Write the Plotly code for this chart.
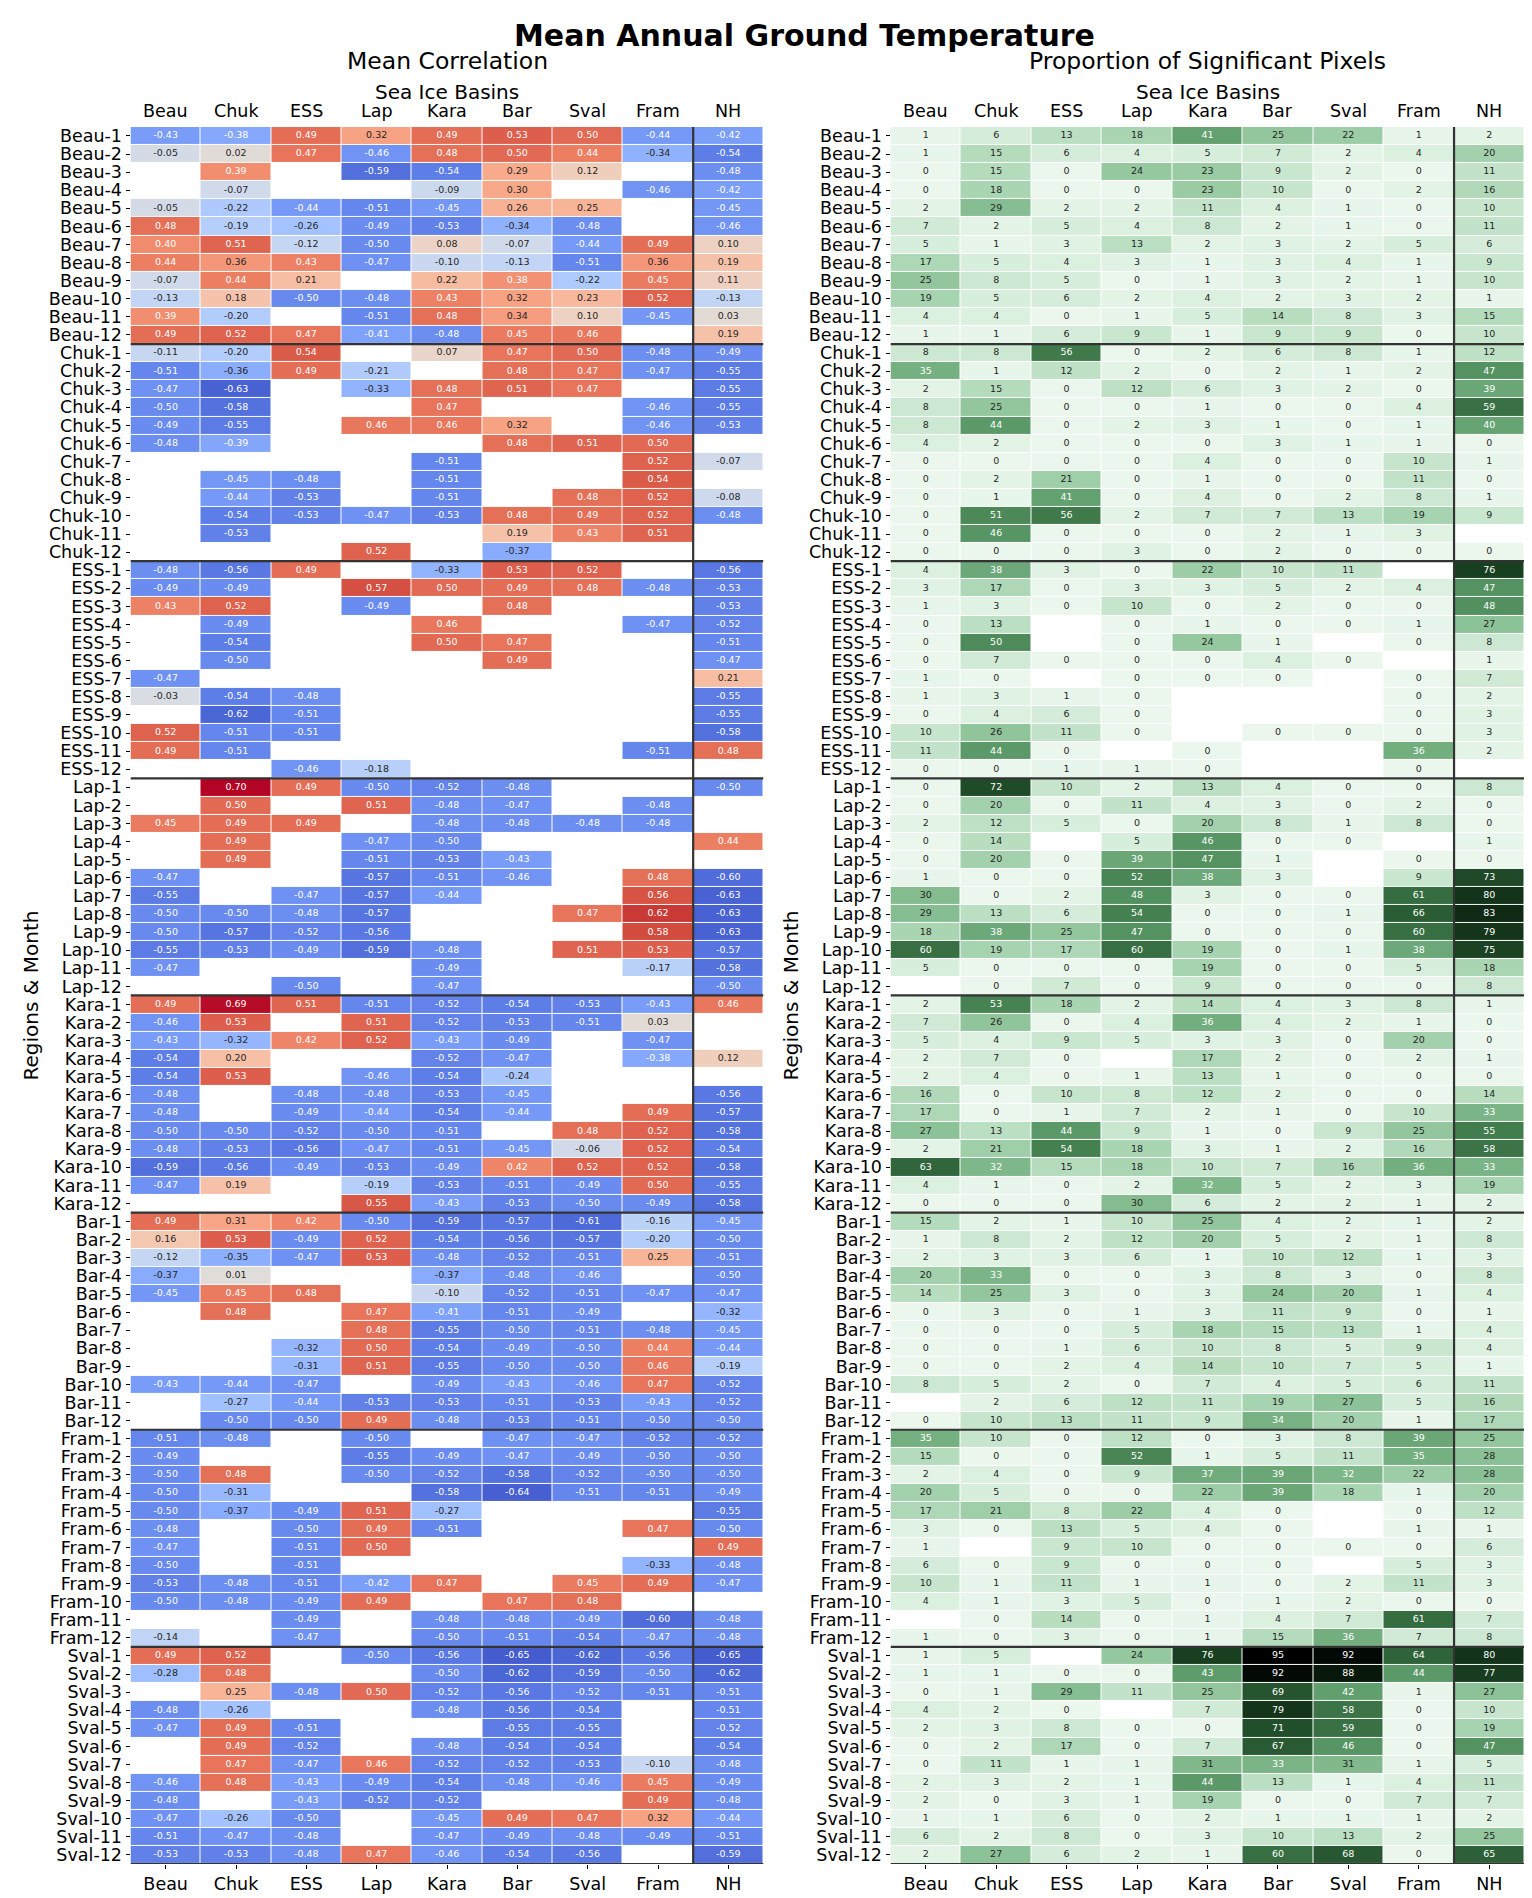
import numpy as np
import plotly.graph_objects as go

N = None
row_regions = ["Beau", "Chuk", "ESS", "Lap", "Kara", "Bar", "Fram", "Sval"]
basins = ["Beau", "Chuk", "ESS", "Lap", "Kara", "Bar", "Sval", "Fram", "NH"]
months = list(range(1, 13))

# ---------------- Mean correlation (rows = region-month, cols = basins) ----------------
corr_beau = [
    [-0.43, -0.38, 0.49, 0.32, 0.49, 0.53, 0.50, -0.44, -0.42],
    [-0.05, 0.02, 0.47, -0.46, 0.48, 0.50, 0.44, -0.34, -0.54],
    [N, 0.39, N, -0.59, -0.54, 0.29, 0.12, N, -0.48],
    [N, -0.07, N, N, -0.09, 0.30, N, -0.46, -0.42],
    [-0.05, -0.22, -0.44, -0.51, -0.45, 0.26, 0.25, N, -0.45],
    [0.48, -0.19, -0.26, -0.49, -0.53, -0.34, -0.48, N, -0.46],
    [0.40, 0.51, -0.12, -0.50, 0.08, -0.07, -0.44, 0.49, 0.10],
    [0.44, 0.36, 0.43, -0.47, -0.10, -0.13, -0.51, 0.36, 0.19],
    [-0.07, 0.44, 0.21, N, 0.22, 0.38, -0.22, 0.45, 0.11],
    [-0.13, 0.18, -0.50, -0.48, 0.43, 0.32, 0.23, 0.52, -0.13],
    [0.39, -0.20, N, -0.51, 0.48, 0.34, 0.10, -0.45, 0.03],
    [0.49, 0.52, 0.47, -0.41, -0.48, 0.45, 0.46, N, 0.19],
]
corr_chuk = [
    [-0.11, -0.20, 0.54, N, 0.07, 0.47, 0.50, -0.48, -0.49],
    [-0.51, -0.36, 0.49, -0.21, N, 0.48, 0.47, -0.47, -0.55],
    [-0.47, -0.63, N, -0.33, 0.48, 0.51, 0.47, N, -0.55],
    [-0.50, -0.58, N, N, 0.47, N, N, -0.46, -0.55],
    [-0.49, -0.55, N, 0.46, 0.46, 0.32, N, -0.46, -0.53],
    [-0.48, -0.39, N, N, N, 0.48, 0.51, 0.50, N],
    [N, N, N, N, -0.51, N, N, 0.52, -0.07],
    [N, -0.45, -0.48, N, -0.51, N, N, 0.54, N],
    [N, -0.44, -0.53, N, -0.51, N, 0.48, 0.52, -0.08],
    [N, -0.54, -0.53, -0.47, -0.53, 0.48, 0.49, 0.52, -0.48],
    [N, -0.53, N, N, N, 0.19, 0.43, 0.51, N],
    [N, N, N, 0.52, N, -0.37, N, N, N],
]
corr_ess = [
    [-0.48, -0.56, 0.49, N, -0.33, 0.53, 0.52, N, -0.56],
    [-0.49, -0.49, N, 0.57, 0.50, 0.49, 0.48, -0.48, -0.53],
    [0.43, 0.52, N, -0.49, N, 0.48, N, N, -0.53],
    [N, -0.49, N, N, 0.46, N, N, -0.47, -0.52],
    [N, -0.54, N, N, 0.50, 0.47, N, N, -0.51],
    [N, -0.50, N, N, N, 0.49, N, N, -0.47],
    [-0.47, N, N, N, N, N, N, N, 0.21],
    [-0.03, -0.54, -0.48, N, N, N, N, N, -0.55],
    [N, -0.62, -0.51, N, N, N, N, N, -0.55],
    [0.52, -0.51, -0.51, N, N, N, N, N, -0.58],
    [0.49, -0.51, N, N, N, N, N, -0.51, 0.48],
    [N, N, -0.46, -0.18, N, N, N, N, N],
]
corr_lap = [
    [N, 0.70, 0.49, -0.50, -0.52, -0.48, N, N, -0.50],
    [N, 0.50, N, 0.51, -0.48, -0.47, N, -0.48, N],
    [0.45, 0.49, 0.49, N, -0.48, -0.48, -0.48, -0.48, N],
    [N, 0.49, N, -0.47, -0.50, N, N, N, 0.44],
    [N, 0.49, N, -0.51, -0.53, -0.43, N, N, N],
    [-0.47, N, N, -0.57, -0.51, -0.46, N, 0.48, -0.60],
    [-0.55, N, -0.47, -0.57, -0.44, N, N, 0.56, -0.63],
    [-0.50, -0.50, -0.48, -0.57, N, N, 0.47, 0.62, -0.63],
    [-0.50, -0.57, -0.52, -0.56, N, N, N, 0.58, -0.63],
    [-0.55, -0.53, -0.49, -0.59, -0.48, N, 0.51, 0.53, -0.57],
    [-0.47, N, N, N, -0.49, N, N, -0.17, -0.58],
    [N, N, -0.50, N, -0.47, N, N, N, -0.50],
]
corr_kara = [
    [0.49, 0.69, 0.51, -0.51, -0.52, -0.54, -0.53, -0.43, 0.46],
    [-0.46, 0.53, N, 0.51, -0.52, -0.53, -0.51, 0.03, N],
    [-0.43, -0.32, 0.42, 0.52, -0.43, -0.49, N, -0.47, N],
    [-0.54, 0.20, N, N, -0.52, -0.47, N, -0.38, 0.12],
    [-0.54, 0.53, N, -0.46, -0.54, -0.24, N, N, N],
    [-0.48, N, -0.48, -0.48, -0.53, -0.45, N, N, -0.56],
    [-0.48, N, -0.49, -0.44, -0.54, -0.44, N, 0.49, -0.57],
    [-0.50, -0.50, -0.52, -0.50, -0.51, N, 0.48, 0.52, -0.58],
    [-0.48, -0.53, -0.56, -0.47, -0.51, -0.45, -0.06, 0.52, -0.54],
    [-0.59, -0.56, -0.49, -0.53, -0.49, 0.42, 0.52, 0.52, -0.58],
    [-0.47, 0.19, N, -0.19, -0.53, -0.51, -0.49, 0.50, -0.55],
    [N, N, N, 0.55, -0.43, -0.53, -0.50, -0.49, -0.58],
]
corr_bar = [
    [0.49, 0.31, 0.42, -0.50, -0.59, -0.57, -0.61, -0.16, -0.45],
    [0.16, 0.53, -0.49, 0.52, -0.54, -0.56, -0.57, -0.20, -0.50],
    [-0.12, -0.35, -0.47, 0.53, -0.48, -0.52, -0.51, 0.25, -0.51],
    [-0.37, 0.01, N, N, -0.37, -0.48, -0.46, N, -0.50],
    [-0.45, 0.45, 0.48, N, -0.10, -0.52, -0.51, -0.47, -0.47],
    [N, 0.48, N, 0.47, -0.41, -0.51, -0.49, N, -0.32],
    [N, N, N, 0.48, -0.55, -0.50, -0.51, -0.48, -0.45],
    [N, N, -0.32, 0.50, -0.54, -0.49, -0.50, 0.44, -0.44],
    [N, N, -0.31, 0.51, -0.55, -0.50, -0.50, 0.46, -0.19],
    [-0.43, -0.44, -0.47, N, -0.49, -0.43, -0.46, 0.47, -0.52],
    [N, -0.27, -0.44, -0.53, -0.53, -0.51, -0.53, -0.43, -0.52],
    [N, -0.50, -0.50, 0.49, -0.48, -0.53, -0.51, -0.50, -0.50],
]
corr_fram = [
    [-0.51, -0.48, N, -0.50, N, -0.47, -0.47, -0.52, -0.52],
    [-0.49, N, N, -0.55, -0.49, -0.47, -0.49, -0.50, -0.50],
    [-0.50, 0.48, N, -0.50, -0.52, -0.58, -0.52, -0.50, -0.50],
    [-0.50, -0.31, N, N, -0.58, -0.64, -0.51, -0.51, -0.49],
    [-0.50, -0.37, -0.49, 0.51, -0.27, N, N, N, -0.55],
    [-0.48, N, -0.50, 0.49, -0.51, N, N, 0.47, -0.50],
    [-0.47, N, -0.51, 0.50, N, N, N, N, 0.49],
    [-0.50, N, -0.51, N, N, N, N, -0.33, -0.48],
    [-0.53, -0.48, -0.51, -0.42, 0.47, N, 0.45, 0.49, -0.47],
    [-0.50, -0.48, -0.49, 0.49, N, 0.47, 0.48, N, N],
    [N, N, -0.49, N, -0.48, -0.48, -0.49, -0.60, -0.48],
    [-0.14, N, -0.47, N, -0.50, -0.51, -0.54, -0.47, -0.48],
]
corr_sval = [
    [0.49, 0.52, N, -0.50, -0.56, -0.65, -0.62, -0.56, -0.65],
    [-0.28, 0.48, N, N, -0.50, -0.62, -0.59, -0.50, -0.62],
    [N, 0.25, -0.48, 0.50, -0.52, -0.56, -0.52, -0.51, -0.51],
    [-0.48, -0.26, N, N, -0.48, -0.56, -0.54, N, -0.51],
    [-0.47, 0.49, -0.51, N, N, -0.55, -0.55, N, -0.52],
    [N, 0.49, -0.52, N, -0.48, -0.54, -0.54, N, -0.54],
    [N, 0.47, -0.47, 0.46, -0.52, -0.52, -0.53, -0.10, -0.48],
    [-0.46, 0.48, -0.43, -0.49, -0.54, -0.48, -0.46, 0.45, -0.49],
    [-0.48, N, -0.43, -0.52, -0.52, N, N, 0.49, -0.48],
    [-0.47, -0.26, -0.50, N, -0.45, 0.49, 0.47, 0.32, -0.44],
    [-0.51, -0.47, -0.48, N, -0.47, -0.49, -0.48, -0.49, -0.51],
    [-0.53, -0.53, -0.48, 0.47, -0.46, -0.54, -0.56, N, -0.59],
]

# ---------------- Proportion of significant pixels (%) ----------------
prop_beau = [
    [1, 6, 13, 18, 41, 25, 22, 1, 2],
    [1, 15, 6, 4, 5, 7, 2, 4, 20],
    [0, 15, 0, 24, 23, 9, 2, 0, 11],
    [0, 18, 0, 0, 23, 10, 0, 2, 16],
    [2, 29, 2, 2, 11, 4, 1, 0, 10],
    [7, 2, 5, 4, 8, 2, 1, 0, 11],
    [5, 1, 3, 13, 2, 3, 2, 5, 6],
    [17, 5, 4, 3, 1, 3, 4, 1, 9],
    [25, 8, 5, 0, 1, 3, 2, 1, 10],
    [19, 5, 6, 2, 4, 2, 3, 2, 1],
    [4, 4, 0, 1, 5, 14, 8, 3, 15],
    [1, 1, 6, 9, 1, 9, 9, 0, 10],
]
prop_chuk = [
    [8, 8, 56, 0, 2, 6, 8, 1, 12],
    [35, 1, 12, 2, 0, 2, 1, 2, 47],
    [2, 15, 0, 12, 6, 3, 2, 0, 39],
    [8, 25, 0, 0, 1, 0, 0, 4, 59],
    [8, 44, 0, 2, 3, 1, 0, 1, 40],
    [4, 2, 0, 0, 0, 3, 1, 1, 0],
    [0, 0, 0, 0, 4, 0, 0, 10, 1],
    [0, 2, 21, 0, 1, 0, 0, 11, 0],
    [0, 1, 41, 0, 4, 0, 2, 8, 1],
    [0, 51, 56, 2, 7, 7, 13, 19, 9],
    [0, 46, 0, 0, 0, 2, 1, 3, N],
    [0, 0, 0, 3, 0, 2, 0, 0, 0],
]
prop_ess = [
    [4, 38, 3, 0, 22, 10, 11, N, 76],
    [3, 17, 0, 3, 3, 5, 2, 4, 47],
    [1, 3, 0, 10, 0, 2, 0, 0, 48],
    [0, 13, N, 0, 1, 0, 0, 1, 27],
    [0, 50, N, 0, 24, 1, N, 0, 8],
    [0, 7, 0, 0, 0, 4, 0, N, 1],
    [1, 0, N, 0, 0, 0, N, 0, 7],
    [1, 3, 1, 0, N, N, N, 0, 2],
    [0, 4, 6, 0, N, N, N, 0, 3],
    [10, 26, 11, 0, N, 0, 0, 0, 3],
    [11, 44, 0, N, 0, N, N, 36, 2],
    [0, 0, 1, 1, 0, N, N, 0, N],
]
prop_lap = [
    [0, 72, 10, 2, 13, 4, 0, 0, 8],
    [0, 20, 0, 11, 4, 3, 0, 2, 0],
    [2, 12, 5, 0, 20, 8, 1, 8, 0],
    [0, 14, N, 5, 46, 0, 0, N, 1],
    [0, 20, 0, 39, 47, 1, N, 0, 0],
    [1, 0, 0, 52, 38, 3, N, 9, 73],
    [30, 0, 2, 48, 3, 0, 0, 61, 80],
    [29, 13, 6, 54, 0, 0, 1, 66, 83],
    [18, 38, 25, 47, 0, 0, 0, 60, 79],
    [60, 19, 17, 60, 19, 0, 1, 38, 75],
    [5, 0, 0, 0, 19, 0, 0, 5, 18],
    [N, 0, 7, 0, 9, 0, 0, 0, 8],
]
prop_kara = [
    [2, 53, 18, 2, 14, 4, 3, 8, 1],
    [7, 26, 0, 4, 36, 4, 2, 1, 0],
    [5, 4, 9, 5, 3, 3, 0, 20, 0],
    [2, 7, 0, N, 17, 2, 0, 2, 1],
    [2, 4, 0, 1, 13, 1, 0, 0, 0],
    [16, 0, 10, 8, 12, 2, 0, 0, 14],
    [17, 0, 1, 7, 2, 1, 0, 10, 33],
    [27, 13, 44, 9, 1, 0, 9, 25, 55],
    [2, 21, 54, 18, 3, 1, 2, 16, 58],
    [63, 32, 15, 18, 10, 7, 16, 36, 33],
    [4, 1, 0, 2, 32, 5, 2, 3, 19],
    [0, 0, 0, 30, 6, 2, 2, 1, 2],
]
prop_bar = [
    [15, 2, 1, 10, 25, 4, 2, 1, 2],
    [1, 8, 2, 12, 20, 5, 2, 1, 8],
    [2, 3, 3, 6, 1, 10, 12, 1, 3],
    [20, 33, 0, 0, 3, 8, 3, 0, 8],
    [14, 25, 3, 0, 3, 24, 20, 1, 4],
    [0, 3, 0, 1, 3, 11, 9, 0, 1],
    [0, 0, 0, 5, 18, 15, 13, 1, 4],
    [0, 0, 1, 6, 10, 8, 5, 9, 4],
    [0, 0, 2, 4, 14, 10, 7, 5, 1],
    [8, 5, 2, 0, 7, 4, 5, 6, 11],
    [N, 2, 6, 12, 11, 19, 27, 5, 16],
    [0, 10, 13, 11, 9, 34, 20, 1, 17],
]
prop_fram = [
    [35, 10, 0, 12, 0, 3, 8, 39, 25],
    [15, 0, 0, 52, 1, 5, 11, 35, 28],
    [2, 4, 0, 9, 37, 39, 32, 22, 28],
    [20, 5, 0, 0, 22, 39, 18, 1, 20],
    [17, 21, 8, 22, 4, 0, N, 0, 12],
    [3, 0, 13, 5, 4, 0, N, 1, 1],
    [1, N, 9, 10, 0, 0, 0, 0, 6],
    [6, 0, 9, 0, 0, 0, N, 5, 3],
    [10, 1, 11, 1, 1, 0, 2, 11, 3],
    [4, 1, 3, 5, 0, 1, 2, 0, 0],
    [N, 0, 14, 0, 1, 4, 7, 61, 7],
    [1, 0, 3, 0, 1, 15, 36, 7, 8],
]
prop_sval = [
    [1, 5, N, 24, 76, 95, 92, 64, 80],
    [1, 1, 0, 0, 43, 92, 88, 44, 77],
    [0, 1, 29, 11, 25, 69, 42, 1, 27],
    [4, 2, 0, N, 7, 79, 58, 0, 10],
    [2, 3, 8, 0, 0, 71, 59, 0, 19],
    [0, 2, 17, 0, 7, 67, 46, 0, 47],
    [0, 11, 1, 1, 31, 33, 31, 1, 5],
    [2, 3, 2, 1, 44, 13, 1, 4, 11],
    [2, 0, 3, 1, 19, 0, 0, 7, 7],
    [1, 1, 6, 0, 2, 1, 1, 1, 2],
    [6, 2, 8, 0, 3, 10, 13, 2, 25],
    [2, 27, 6, 2, 1, 60, 68, 0, 65],
]

corr_blocks = [corr_beau, corr_chuk, corr_ess, corr_lap, corr_kara, corr_bar, corr_fram, corr_sval]
prop_blocks = [prop_beau, prop_chuk, prop_ess, prop_lap, prop_kara, prop_bar, prop_fram, prop_sval]
row_labels = [f"{r}-{m}" for r in row_regions for m in months]

corr = np.array([row for b in corr_blocks for row in b], dtype=float)
prop = np.array([row for b in prop_blocks for row in b], dtype=float)
NR, NC = corr.shape

# ---------------- colormaps ----------------
coolwarm_table = [
    (59, 76, 192), (68, 90, 204), (77, 104, 215), (87, 117, 225), (98, 130, 234),
    (108, 142, 241), (119, 154, 247), (130, 165, 251), (141, 176, 254), (152, 185, 255),
    (163, 194, 255), (174, 201, 253), (184, 208, 249), (194, 213, 244), (204, 217, 238),
    (213, 219, 230), (221, 221, 221), (229, 216, 209), (236, 211, 197), (241, 204, 185),
    (245, 196, 173), (247, 187, 160), (247, 177, 148), (247, 166, 135), (244, 154, 123),
    (241, 141, 111), (236, 127, 99), (229, 112, 88), (222, 96, 77), (213, 80, 66),
    (203, 62, 56), (192, 40, 47), (180, 4, 38),
]
cw_pos = np.linspace(0, 1, len(coolwarm_table))
cw_rgb = np.array(coolwarm_table, dtype=float) / 255.0


def cubehelix_rgb(x, start=2.0, rot=0.0, hue=0.8, gamma=1.0):
    xg = x ** gamma
    a = hue * xg * (1 - xg) / 2
    phi = 2 * np.pi * (start / 3 + rot * x)
    r = xg + a * (-0.14861 * np.cos(phi) + 1.78277 * np.sin(phi))
    g = xg + a * (-0.29227 * np.cos(phi) - 0.90649 * np.sin(phi))
    b = xg + a * (1.97294 * np.cos(phi))
    return np.clip(np.array([r, g, b]).T, 0, 1)


gr_pos = np.linspace(0, 1, 64)
gr_rgb = cubehelix_rgb(0.95 + (0.0 - 0.95) * gr_pos)


def to_scale(pos, rgb):
    return [[float(p), "rgb(%d,%d,%d)" % tuple(np.round(c * 255))] for p, c in zip(pos, rgb)]


def interp(pos, rgb, t):
    t = min(max(t, 0), 1)
    return np.array([np.interp(t, pos, rgb[:, k]) for k in range(3)])


def text_color(rgb):
    c = np.where(rgb <= 0.03928, rgb / 12.92, ((rgb + 0.055) / 1.055) ** 2.4)
    lum = 0.2126 * c[0] + 0.7152 * c[1] + 0.0722 * c[2]
    return "#262626" if lum > 0.408 else "#ffffff"


CMIN, CMAX = -0.7, 0.7
PMIN, PMAX = 0.0, 95.0

W, H = 1532, 1898
FONT = "DejaVu Sans"
top_px, bot_px = 118, 1857
ydom = [1 - bot_px / H, 1 - top_px / H]
xdom1 = [122.5 / W, 755.5 / W]
xdom2 = [882.5 / W, 1516.5 / W]


def zlist(a):
    return [[None if np.isnan(v) else float(v) for v in row] for row in a]


def text_trace(a, pos, rgb, vmin, vmax, fmt, xa, ya):
    xs, ys, ts, cs = [], [], [], []
    for i in range(a.shape[0]):
        for j in range(a.shape[1]):
            v = a[i, j]
            if np.isnan(v):
                continue
            xs.append(j)
            ys.append(i)
            ts.append(fmt.format(v))
            cs.append(text_color(interp(pos, rgb, (v - vmin) / (vmax - vmin))))
    return go.Scatter(x=xs, y=ys, text=ts, mode="text", xaxis=xa, yaxis=ya,
                      textposition="middle center", hoverinfo="skip", showlegend=False,
                      textfont=dict(family=FONT, size=9.5, color=cs))


fig = go.Figure()
fig.add_trace(go.Heatmap(z=zlist(corr), x=list(range(NC)), y=list(range(NR)),
                         colorscale=to_scale(cw_pos, cw_rgb), zmin=CMIN, zmax=CMAX,
                         showscale=False, xgap=1, ygap=1, hoverongaps=False,
                         xaxis="x", yaxis="y"))
fig.add_trace(text_trace(corr, cw_pos, cw_rgb, CMIN, CMAX, "{:.2f}", "x", "y"))
fig.add_trace(go.Heatmap(z=zlist(prop), x=list(range(NC)), y=list(range(NR)),
                         colorscale=to_scale(gr_pos, gr_rgb), zmin=PMIN, zmax=PMAX,
                         showscale=False, xgap=1, ygap=1, hoverongaps=False,
                         xaxis="x2", yaxis="y2"))
fig.add_trace(text_trace(prop, gr_pos, gr_rgb, PMIN, PMAX, "{:.0f}", "x2", "y2"))

tickfont = dict(family=FONT, size=17.5, color="#000000")
xcommon = dict(range=[-0.5, NC - 0.5], tickmode="array", tickvals=list(range(NC)), ticktext=basins,
               ticks="outside", ticklen=4, tickwidth=1, tickcolor="#000000", showgrid=False,
               zeroline=False, showline=False, tickfont=tickfont, fixedrange=True)
ycommon = dict(range=[NR - 0.5, -0.5], tickmode="array", tickvals=list(range(NR)), ticktext=row_labels,
               ticks="outside", ticklen=4, tickwidth=1, tickcolor="#000000", showgrid=False,
               zeroline=False, showline=False, tickfont=tickfont, fixedrange=True, domain=ydom)

fig.update_layout(
    width=W, height=H, autosize=False,
    margin=dict(l=0, r=0, t=0, b=0),
    paper_bgcolor="white", plot_bgcolor="white",
    font=dict(family=FONT, color="#000000"),
    xaxis=dict(domain=xdom1, anchor="y", **xcommon),
    yaxis=dict(anchor="x", **ycommon),
    xaxis2=dict(domain=xdom2, anchor="y2", **xcommon),
    yaxis2=dict(anchor="x2", **ycommon),
)

shapes = []
for xa, ya in (("x", "y"), ("x2", "y2")):
    for k in range(1, len(row_regions) + 1):
        yb = 12 * k - 0.5
        shapes.append(dict(type="line", xref=xa, yref=ya, x0=-0.5, x1=NC - 0.5, y0=yb, y1=yb,
                           line=dict(color="#333333", width=2.2)))
    shapes.append(dict(type="line", xref=xa, yref=ya, x0=NC - 1.5, x1=NC - 1.5, y0=-0.5, y1=NR - 0.5,
                       line=dict(color="#333333", width=2.2)))
fig.update_layout(shapes=shapes)


def ypx(p):
    return 1 - p / H


ann = []
ann.append(dict(text="<b>Mean Annual Ground Temperature</b>", x=796 / W, y=ypx(27), xref="paper", yref="paper",
                showarrow=False, xanchor="center", yanchor="middle", font=dict(family=FONT, size=30)))
for title, dom in (("Mean Correlation", xdom1), ("Proportion of Significant Pixels", xdom2)):
    cx = (dom[0] + dom[1]) / 2
    ann.append(dict(text=title, x=cx, y=ypx(52.5), xref="paper", yref="paper", showarrow=False,
                    xanchor="center", yanchor="middle", font=dict(family=FONT, size=23.5)))
    ann.append(dict(text="Sea Ice Basins", x=cx, y=ypx(83), xref="paper", yref="paper", showarrow=False,
                    xanchor="center", yanchor="middle", font=dict(family=FONT, size=20)))
for xa in ("x", "x2"):
    for j, b in enumerate(basins):
        ann.append(dict(text=b, x=j, y=ypx(102), xref=xa, yref="paper", showarrow=False,
                        xanchor="center", yanchor="middle", font=tickfont))
for xp in (23, 783):
    ann.append(dict(text="Regions & Month", x=xp / W, y=(ydom[0] + ydom[1]) / 2, xref="paper", yref="paper",
                    showarrow=False, textangle=-90, xanchor="center", yanchor="middle",
                    font=dict(family=FONT, size=20)))
fig.update_layout(annotations=ann)

fig.write_html("out.html")
